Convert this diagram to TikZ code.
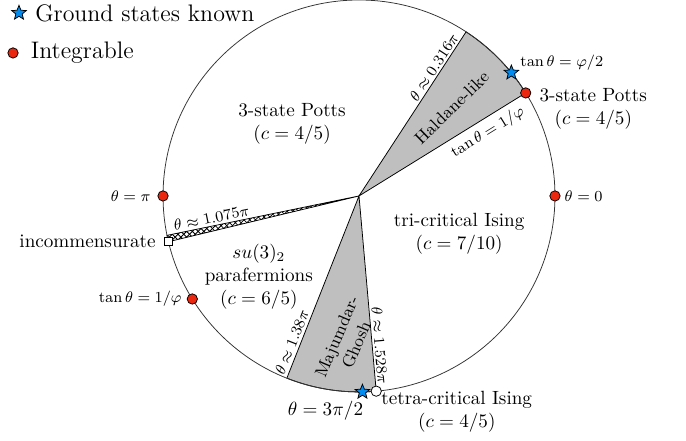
\documentclass[tikz,border=0pt]{standalone}
\usepackage{xcolor}
\usepackage{amsmath}
\usepackage{tikz}
\usetikzlibrary{shapes.geometric,patterns,positioning,calc}
\definecolor{intred}{RGB}{235,40,15}
\definecolor{gsblue}{RGB}{0,140,240}
\tikzset{
  rim/.style={draw=black!80,line width=0.4pt},
  wedge/.style={draw=black,fill=gray!50,line width=0.4pt},
  hatch/.style={draw=black,pattern=crosshatch,line width=0.4pt},
  intdot/.style={draw,circle,fill=intred,inner sep=0pt,minimum size=5.4pt,line width=0.4pt},
  gsstar/.style={draw,star,star points=5,star point ratio=2.3,fill=gsblue,
                 inner sep=0pt,minimum size=8pt,line width=0.4pt},
  opendot/.style={draw,circle,fill=white,inner sep=0pt,minimum size=5.4pt},
  opensq/.style={draw,rectangle,fill=white,inner sep=0pt,minimum size=4.2pt},
  region/.style={align=center,font=\normalsize},
  gapped/.style={align=center,font=\small,inner sep=1pt},
  blab/.style={font=\footnotesize,inner sep=1pt},
  legtext/.style={font=\fontsize{12.5}{15}\selectfont,inner sep=0pt},
}
\def\R{3.6}

\begin{document}
\begin{tikzpicture}
  \useasboundingbox (-6.595,-4.501) rectangle (6.007,3.6);
  \coordinate (O) at (0,0);

  % gapped phases
  \filldraw[wedge] (O) -- (31.72:\R) arc[start angle=31.72,end angle=56.88,radius=\R] -- cycle;
  \filldraw[wedge] (O) -- (248.4:\R) arc[start angle=248.4,end angle=275.04,radius=\R] -- cycle;
  \filldraw[hatch] (O) -- (191.6:\R) arc[start angle=191.6,end angle=193.5,radius=\R] -- cycle;
  \draw[rim] (O) circle (\R);

  % boundaries
  \path (O) -- node[blab,sloped,above,pos=0.76]{$\theta\approx 0.316\pi$} (56.88:\R);
  \path (O) -- node[blab,sloped,below=2pt,pos=0.73]{$\tan\theta=1/\varphi$} (31.72:\R);
  \path (O) -- node[blab,sloped,above=0.3pt,pos=0.76]{$\theta\approx 1.075\pi$} (191.6:\R);
  \path (O) -- node[blab,sloped,above=0.5pt,pos=0.82]{$\theta\approx 1.38\pi$} (248.4:\R);
  \path (O) -- node[blab,sloped,above,pos=0.77]{$\theta\approx 1.528\pi$} (275.04:\R);

  % phases
  \node[region] (potts)  at (-1.23,1.32)  {3-state Potts\\$(c=4/5)$};
  \node[region] (tci)    at (1.84,-0.70)  {tri-critical Ising\\$(c=7/10)$};
  \node[region] (paraf)  at (-1.84,-1.49) {$su(3)_2$\\parafermions\\$(c=6/5)$};
  \node[gapped,rotate=44.3] (haldane) at (1.70,1.62) {Haldane-like};
  \node[gapped,rotate=67]   (mg)      at (-0.23,-2.66) {Majumdar-\\Ghosh};

  % special points on the circle
  \node[intdot] (th0) at (0:\R) {};
  \node[blab,right=1pt of th0] {$\theta=0$};
  \node[intdot] (thpi) at (180:\R) {};
  \node[blab,left=2.5pt of thpi] {$\theta=\pi$};
  \node[intdot] (pottsA) at (31.72:\R) {};
  \node[region,right=0.03cm of pottsA,yshift=-0.3cm] {3-state Potts\\$(c=4/5)$};
  \node[gsstar] (gsA) at (38.97:\R) {};
  \node[blab,above right=-0.06cm and 0.07cm of gsA] {$\tan\theta=\varphi/2$};
  \node[intdot] (pottsB) at (211.72:\R) {};
  \node[blab,left=1.5pt of pottsB] {$\tan\theta=1/\varphi$};
  \node[opensq] (incom) at (193.5:\R) {};
  \node[left=0.03cm of incom] {incommensurate};
  \node[gsstar] (gsB) at (271:\R) {};
  \node[below=-0.03cm of gsB,xshift=-0.68cm] {$\theta=3\pi/2$};
  \node[opendot] (tetra) at (275.04:\R) {};
  \node[region,below right=-0.2cm and -0.1cm of tetra] {tetra-critical Ising\\$(c=4/5)$};

  % legend
  \node[gsstar] (leg1) at (-6.246,3.362) {};
  \node[legtext,right=0.2cm of leg1] {Ground states known};
  \node[intdot] (leg2) at (-6.356,2.627) {};
  \node[legtext,right=0.22cm of leg2] {Integrable};
\end{tikzpicture}
\end{document}
